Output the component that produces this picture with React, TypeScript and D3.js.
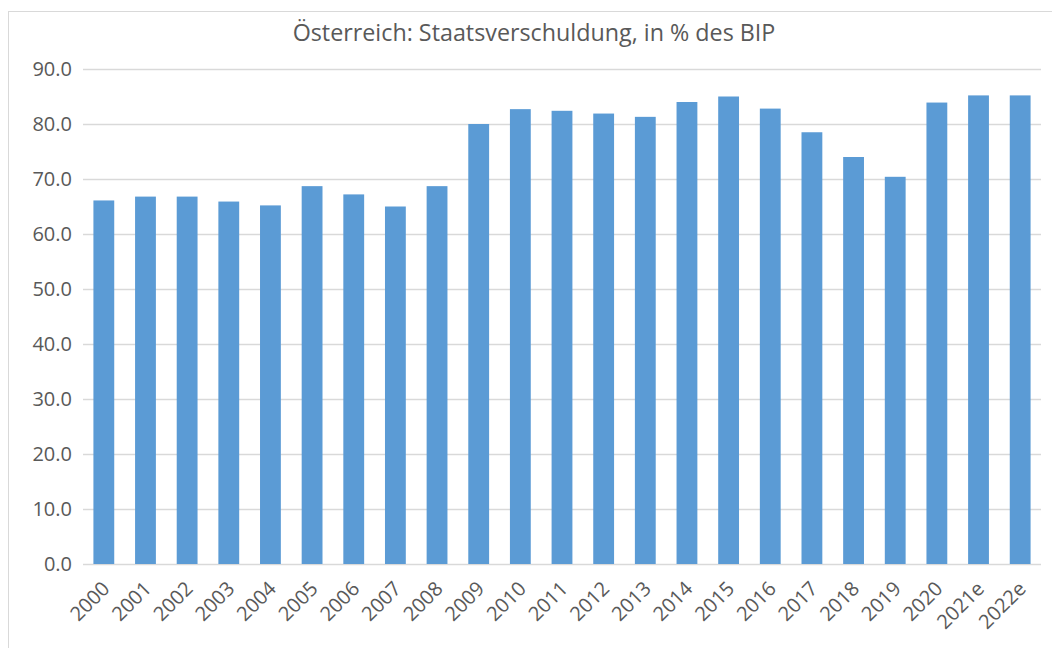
import React from "react";
import * as d3 from "d3";

const years = [
  "2000", "2001", "2002", "2003", "2004", "2005", "2006", "2007", "2008", "2009",
  "2010", "2011", "2012", "2013", "2014", "2015", "2016", "2017", "2018", "2019",
  "2020", "2021e", "2022e",
];
const debtPct = [
  66.1, 66.8, 66.8, 65.9, 65.2, 68.7, 67.2, 65.0, 68.7, 80.0,
  82.7, 82.4, 81.9, 81.3, 84.0, 85.0, 82.8, 78.5, 74.0, 70.4,
  83.9, 85.2, 85.2,
];
const yTicks = [0, 10, 20, 30, 40, 50, 60, 70, 80, 90];
const title = "Österreich: Staatsverschuldung, in % des BIP";

const W = 1052;
const H = 648;
const FONT = "'Open Sans', 'Noto Sans', sans-serif";
const TEXT = "#595959";

export default function App() {
  const svgRef = React.useRef<SVGSVGElement>(null);

  React.useEffect(() => {
    const svg = d3.select(svgRef.current);
    svg.selectAll("*").remove();

    const x = d3.scaleBand().domain(years).range([83, 1041]).paddingInner(0.5).paddingOuter(0.25);
    const y = d3.scaleLinear().domain([0, 90]).range([564, 69]);

    // chart area frame
    svg
      .append("rect")
      .attr("x", 8.5)
      .attr("y", 11.5)
      .attr("width", W + 20)
      .attr("height", H + 20)
      .attr("fill", "#fff")
      .attr("stroke", "#d9d9d9");

    svg
      .append("text")
      .attr("x", 534)
      .attr("y", 41)
      .attr("text-anchor", "middle")
      .attr("font-family", FONT)
      .attr("font-size", 23.3)
      .attr("fill", TEXT)
      .text(title);

    // y grid
    const yAxis = d3
      .axisLeft(y)
      .tickValues(yTicks)
      .tickSize(-(1041 - 83))
      .tickPadding(11)
      .tickFormat((v) => d3.format(".1f")(v as number));
    const yg = svg.append("g").attr("transform", "translate(83,0)").call(yAxis);
    yg.select(".domain").remove();
    yg.selectAll("line").attr("stroke", "#d9d9d9").attr("stroke-width", 1.3);
    yg.selectAll("text")
      .attr("fill", TEXT)
      .attr("font-family", FONT)
      .attr("font-size", 20);

    svg
      .append("g")
      .selectAll("rect")
      .data(years)
      .join("rect")
      .attr("x", (d) => x(d)!)
      .attr("width", x.bandwidth())
      .attr("y", (d, i) => y(debtPct[i]))
      .attr("height", (d, i) => y(0) - y(debtPct[i]))
      .attr("fill", "#5b9bd5");

    // x labels
    svg
      .append("g")
      .selectAll("text")
      .data(years)
      .join("text")
      .attr("transform", (d) => `translate(${x(d)! + x.bandwidth() / 2 + 7},${590}) rotate(-45)`)
      .attr("text-anchor", "end")
      .attr("font-family", FONT)
      .attr("font-size", 20)
      .attr("fill", TEXT)
      .text((d) => d);
  }, []);

  return (
    <svg
      ref={svgRef}
      width={W}
      height={H}
      style={{ position: "absolute", left: 0, top: 0, background: "#fff" }}
    />
  );
}
